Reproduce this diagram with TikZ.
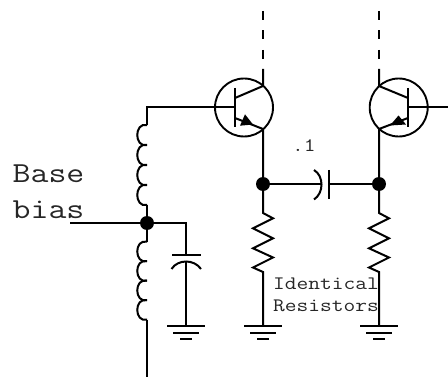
\documentclass[tikz,border=0pt]{standalone}
\usepackage{fontspec}
\newfontfamily\lmono[FakeStretch=1.2]{Latin Modern Mono}
\tikzset{
 wire/.style={line width=2pt,line join=miter},
 dotnode/.style={circle,fill=black,inner sep=0pt,minimum size=14pt},
 biglabel/.style={font=\lmono\fontsize{29}{29}\selectfont,text=black!85,inner sep=0pt,anchor=base west},
 smalllabel/.style={font=\lmono\fontsize{19}{19}\selectfont,text=black!85,inner sep=0pt,anchor=base west},
 tcircle/.style={circle,draw,line width=1.9pt,inner sep=0pt,minimum size=58pt},
}
\begin{document}
\begin{tikzpicture}[x=1pt,y=-1pt]
\useasboundingbox (0,0) rectangle (448,377);
\def\gnd#1#2{%
 \draw[wire] (#1-19,#2) -- (#1+19,#2) (#1-13,#2+7) -- (#1+13,#2+7) (#1-6,#2+13) -- (#1+6,#2+13);}
\def\res#1{%
 \draw[wire] (#1,184) -- (#1,213) -- (#1+10,218.3) -- (#1-10,228.3) -- (#1+10,238.3) -- (#1-10,248.3) -- (#1+10,257.5) -- (#1-10,267.5) -- (#1,272) -- (#1,326);}
\def\ind#1#2{%
 \foreach \k in {0,1,2,3} {\draw[wire] (147,#1+\k*#2) .. controls (134,#1+\k*#2-3) and (134,#1+\k*#2+#2+3) .. (147,#1+\k*#2+#2);}}
% transistors
\node[tcircle] (q1) at (244,107.5) {};
\node[tcircle] (q2) at (398.7,107.5) {};
% junctions
\node[dotnode] (n1) at (263,184) {};
\node[dotnode] (n2) at (379,184) {};
\node[dotnode] (n3) at (147,223) {};
% Q1
\draw[wire] (263,69) -- (263,86) -- (235,98);
\draw[wire] (235,88) -- (235,127);
\draw[wire] (235,118) -- (263,129) -- (n1);
\draw[wire,dash pattern=on 9pt off 10.5pt] (263,11) -- (263,60);
\fill (253,124.5) -- (240,125.7) -- (245,114.3) -- cycle;
% Q2
\draw[wire] (379,69) -- (379,86) -- (408,98);
\draw[wire] (408,88) -- (408,127);
\draw[wire] (408,118) -- (379,129) -- (n2);
\draw[wire,dash pattern=on 9pt off 10.5pt] (379,11) -- (379,60);
\fill (390,125.5) -- (406,124.5) -- (398.5,115.5) -- cycle;
\draw[wire] (408,107) -- (448,107);
% base + inductors
\draw[wire] (235,107) -- (147,107) -- (147,125);
\ind{125}{20}
\draw[wire] (147,205) -- (n3);
\draw[wire] (n3) -- (147,241.7);
\ind{241.7}{19.5}
\draw[wire] (147,320) -- (147,377);
\draw[wire] (70,223) -- (n3);
\draw[wire] (n3) -- (186,223) -- (186,255);
\draw[wire] (172,255) -- (201,255);
\draw[wire] (171.5,269) .. controls (178,259) and (194,259) .. (201,269);
\draw[wire] (186,262) -- (186,326);
\gnd{186}{326}
% coupling capacitor
\draw[wire] (n1) -- (321,184);
\draw[wire] (314,170) .. controls (324,176) and (324,193) .. (314,199.5);
\draw[wire] (329,170) -- (329,199.5);
\draw[wire] (329,184) -- (n2);
% resistors
\res{263}
\res{379}
\gnd{263}{326}
\gnd{379}{326}
% labels
\node[biglabel] (base) at (12.5,182.7) {Base};
\node[biglabel] (bias) at (12.5,218.3) {bias};
\node[smalllabel] (dot) at (292,152) {.1};
\node[smalllabel] (id) at (273,289.3) {Identical};
\node[smalllabel] (rs) at (273,312) {Resistors};
\end{tikzpicture}
\end{document}
